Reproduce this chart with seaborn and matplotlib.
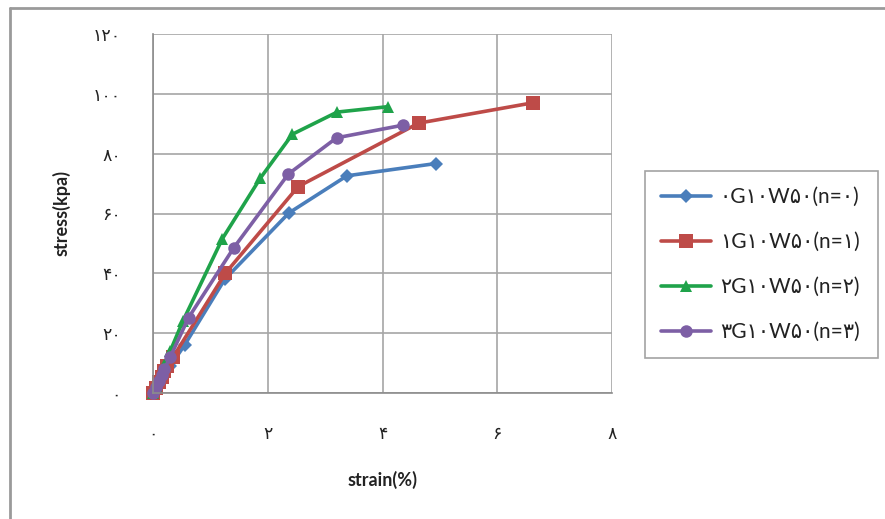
import matplotlib
matplotlib.use("Agg")
import matplotlib.pyplot as plt
from matplotlib.lines import Line2D
import seaborn as sns
import pandas as pd

# ---- data ----
strain_n0 = [0, 0.05, 0.1, 0.15, 0.2, 0.3, 0.55, 1.25, 2.37, 3.38, 4.93]
stress_n0 = [0, 1.5, 3.0, 4.5, 6.0, 9.0, 16.0, 38.0, 60.2, 72.6, 76.7]

strain_n1 = [0, 0.05, 0.1, 0.15, 0.2, 0.25, 0.35, 1.26, 2.53, 4.63, 6.62]
stress_n1 = [0, 1.8, 3.6, 5.4, 7.2, 9.0, 12.0, 40.0, 69.0, 90.2, 97.0]

strain_n2 = [0, 0.05, 0.1, 0.15, 0.2, 0.3, 0.52, 1.21, 1.87, 2.43, 3.21, 4.09]
stress_n2 = [0, 2.5, 5.0, 7.0, 9.5, 14.0, 24.0, 51.6, 71.8, 86.5, 93.9, 95.7]

strain_n3 = [0, 0.05, 0.1, 0.15, 0.2, 0.3, 0.62, 1.41, 2.36, 3.2, 4.35]
stress_n3 = [0, 2.0, 4.0, 6.0, 8.0, 12.0, 25.2, 48.6, 73.2, 85.3, 89.5]

labels = ["۰G۱۰W۵۰(n=۰)", "۱G۱۰W۵۰(n=۱)", "۲G۱۰W۵۰(n=۲)", "۳G۱۰W۵۰(n=۳)"]
x_ticks = [0, 2, 4, 6, 8]
x_ticklabels = ["۰", "۲", "۴", "۶", "۸"]
y_ticks = [0, 20, 40, 60, 80, 100, 120]
y_ticklabels = ["۰", "۲۰", "۴۰", "۶۰", "۸۰", "۱۰۰", "۱۲۰"]

series = [(strain_n0, stress_n0), (strain_n1, stress_n1),
          (strain_n2, stress_n2), (strain_n3, stress_n3)]
colors = ["#4a7ebb", "#be4b48", "#1fa34a", "#7d5fa5"]
markers = ["D", "s", "^", "o"]
msizes = [7, 10, 8, 9]

sns.set_theme(style="white")
plt.rcParams["font.family"] = ["Lato", "DejaVu Sans"]

fig = plt.figure(figsize=(8.85, 5.19), dpi=100)
ax = fig.add_axes([153/885, 1-393/519, (612-153)/885, (393-34)/519])

for (xs, ys), lab, c, m, ms in zip(series, labels, colors, markers, msizes):
    df = pd.DataFrame({"strain": xs, "stress": ys})
    sns.lineplot(data=df, x="strain", y="stress", ax=ax, color=c, lw=2.6,
                 marker=m, markersize=ms, markeredgecolor=c, markeredgewidth=0,
                 sort=False, estimator=None, label=lab, clip_on=False)

ax.set_xlim(0, 8)
ax.set_ylim(0, 120)
ax.set_xticks(x_ticks)
ax.set_xticklabels(x_ticklabels, family=["DejaVu Sans"], fontsize=12.5)
ax.set_yticks(y_ticks)
ax.set_yticklabels(y_ticklabels, family=["DejaVu Sans"], fontsize=12.5)
ax.tick_params(axis="both", direction="out", length=6, width=1, color="#8c8c8c",
               pad=17, colors="#222222")
ax.tick_params(axis="both", color="#8c8c8c")
ax.grid(True, color="#a6a6a6", lw=1.2)
ax.set_axisbelow(True)
for s in ["top", "right"]:
    ax.spines[s].set_visible(False)
for s in ["left", "bottom"]:
    ax.spines[s].set_color("#8c8c8c")
    ax.spines[s].set_linewidth(1.2)

ax.set_xlabel("strain(%)", fontsize=13, fontweight="bold", color="#222222")
ax.set_ylabel("stress(kpa)", fontsize=13, fontweight="bold", color="#222222")
ax.xaxis.set_label_coords(0.5, (393-471)/359, transform=ax.transAxes)
ax.yaxis.set_label_coords((71-153)/459, 0.5, transform=ax.transAxes)

leg = ax.legend(loc="center left", bbox_to_anchor=(645/885, 1-357/519, (878-645)/885, (357-172)/519),
                bbox_transform=fig.transFigure, mode="expand", fontsize=15,
                frameon=True, fancybox=False, edgecolor="#8c8c8c", handlelength=2.4,
                labelspacing=1.2, borderpad=0.75, handletextpad=0.45, borderaxespad=0)
leg.get_frame().set_linewidth(1.2)
for t in leg.get_texts():
    t.set_family(["Lato", "DejaVu Sans"])
    t.set_color("#222222")

# outer frame (top and left edges visible in the reference)
fig.add_artist(Line2D([10/885, 10/885], [0, 1-8/519], transform=fig.transFigure,
                      color="#9a9a9a", lw=2))
fig.add_artist(Line2D([10/885, 1], [1-8/519, 1-8/519], transform=fig.transFigure,
                      color="#9a9a9a", lw=2))

fig.savefig("out.png", dpi=100)
